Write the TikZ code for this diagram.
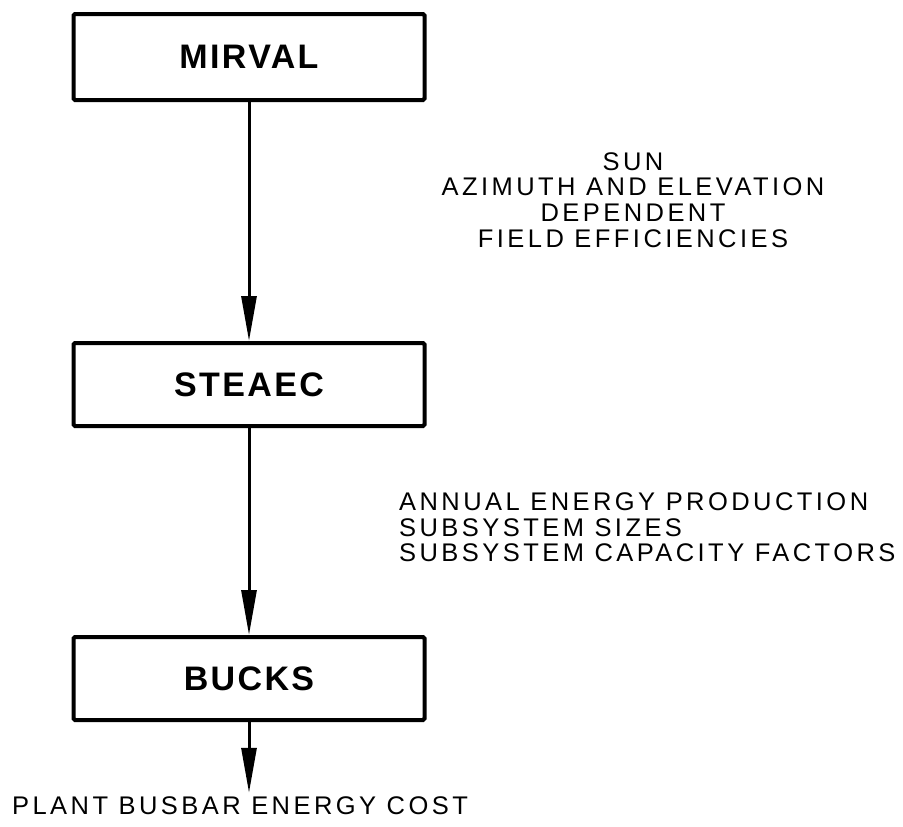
\documentclass[tikz,border=0pt]{standalone}
\usepackage{fontspec}
\setmainfont{Liberation Sans}
\usetikzlibrary{arrows.meta}
\begin{document}
\begin{tikzpicture}[x=1pt,y=-1pt,
  modbox/.style={draw, line width=4pt, rounded corners=1.5pt, minimum width=351pt,
    inner sep=0pt, font=\fontsize{34}{34}\selectfont\bfseries\addfontfeature{LetterSpace=7}},
  lbl/.style={inner sep=0pt, font=\fontsize{25.5}{25.7}\selectfont\addfontfeature{LetterSpace=13.5}},
  flow/.style={line width=3pt, -{Triangle[length=45pt,width=15pt]}}]
\useasboundingbox (0,0) rectangle (903,827);
\node[modbox, minimum height=86pt] (mirval) at (249,57) {MIRVAL};
\node[modbox, minimum height=83pt] (steaec) at (249,384.5) {STEAEC};
\node[modbox, minimum height=83pt] (bucks) at (249,678.5) {BUCKS};
\node[lbl, align=center] (eff) at (633,200) {SUN\\AZIMUTH AND ELEVATION\\DEPENDENT\\FIELD EFFICIENCIES};
\node[lbl, align=left, anchor=west] (prod) at (399,527.5) {ANNUAL ENERGY PRODUCTION\\SUBSYSTEM SIZES\\SUBSYSTEM CAPACITY FACTORS};
\node[lbl, anchor=west] (cost) at (12,806) {PLANT BUSBAR ENERGY COST};
\draw[flow] (mirval.south) -- (steaec.north);
\draw[flow] (steaec.south) -- (bucks.north);
\draw[flow, shorten >=4pt] (bucks.south) -- (bucks.south |- cost.north);
\end{tikzpicture}
\end{document}
